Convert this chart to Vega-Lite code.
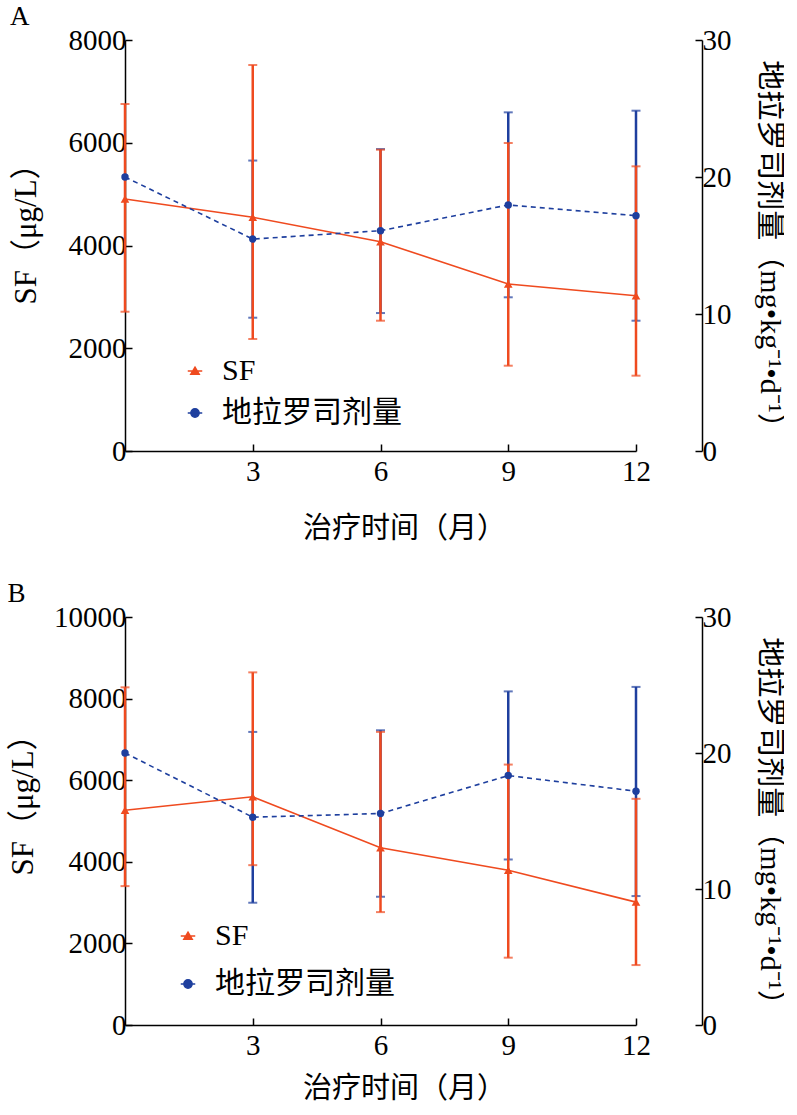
{
  "$schema": "https://vega.github.io/schema/vega-lite/v6.json",
  "padding": {"left": 7, "top": 3, "right": 0, "bottom": 0},
  "config": {
    "view": {"stroke": null},
    "font": "Liberation Serif, Noto Sans CJK SC",
    "axis": {
      "labelFont": "Liberation Serif, Noto Sans CJK SC",
      "titleFont": "Liberation Serif, Noto Sans CJK SC",
      "labelFontSize": 29,
      "titleFontSize": 29,
      "titleFontWeight": "normal",
      "labelColor": "black",
      "titleColor": "black",
      "domainColor": "black",
      "tickColor": "black",
      "domainWidth": 1.5,
      "tickWidth": 1.5,
      "tickSize": -7,
      "grid": false,
      "labelFlush": false,
      "labelOverlap": false
    },
    "legend": {
      "orient": "none",
      "title": null,
      "padding": 0,
      "labelFont": "Liberation Serif, Noto Sans CJK SC",
      "labelFontSize": 30,
      "labelColor": "black",
      "labelLimit": 400,
      "symbolSize": 210,
      "symbolStrokeWidth": 1.5,
      "symbolOpacity": 1,
      "labelOffset": 12
    },
    "title": {"font": "Liberation Serif", "fontSize": 27, "fontWeight": "normal", "color": "black"}
  },
  "resolve": {
    "scale": {"fill": "independent", "stroke": "independent", "shape": "independent"},
    "legend": {"fill": "independent", "stroke": "independent", "shape": "independent"}
  },
  "spacing": 37,
  "datasets": {
    "a": [
      {"t": 0, "series": "SF", "mean": 4905, "lo": 2711, "hi": 6754},
      {"t": 3, "series": "SF", "mean": 4549, "lo": 2180, "hi": 7513},
      {"t": 6, "series": "SF", "mean": 4074, "lo": 2536, "hi": 5865},
      {"t": 9, "series": "SF", "mean": 3250, "lo": 1660, "hi": 5995},
      {"t": 12, "series": "SF", "mean": 3023, "lo": 1466, "hi": 5541},
      {"t": 0, "series": "地拉罗司剂量", "mean": 20.0, "lo": null, "hi": null},
      {"t": 3, "series": "地拉罗司剂量", "mean": 15.47, "lo": 9.73, "hi": 21.2},
      {"t": 6, "series": "地拉罗司剂量", "mean": 16.08, "lo": 10.07, "hi": 22.04},
      {"t": 9, "series": "地拉罗司剂量", "mean": 17.96, "lo": 11.22, "hi": 24.72},
      {"t": 12, "series": "地拉罗司剂量", "mean": 17.18, "lo": 9.51, "hi": 24.84}
    ],
    "b": [
      {"t": 0, "series": "SF", "mean": 5264, "lo": 3404, "hi": 8276},
      {"t": 3, "series": "SF", "mean": 5593, "lo": 3918, "hi": 8643},
      {"t": 6, "series": "SF", "mean": 4344, "lo": 2767, "hi": 7184},
      {"t": 9, "series": "SF", "mean": 3795, "lo": 1650, "hi": 6383},
      {"t": 12, "series": "SF", "mean": 3012, "lo": 1469, "hi": 5544},
      {"t": 0, "series": "地拉罗司剂量", "mean": 20.0, "lo": null, "hi": null},
      {"t": 3, "series": "地拉罗司剂量", "mean": 15.28, "lo": 8.99, "hi": 21.55},
      {"t": 6, "series": "地拉罗司剂量", "mean": 15.55, "lo": 9.43, "hi": 21.67},
      {"t": 9, "series": "地拉罗司剂量", "mean": 18.34, "lo": 12.17, "hi": 24.53},
      {"t": 12, "series": "地拉罗司剂量", "mean": 17.19, "lo": 9.48, "hi": 24.86}
    ]
  },
  "vconcat": [
    {
      "title": {"text": "A", "anchor": "start", "frame": "bounds", "offset": -5},
      "data": {"name": "a"},
      "width": 511,
      "height": 411,
      "resolve": {"scale": {"y": "independent"}},
      "layer": [
        {
          "transform": [{"filter": "datum.series === '地拉罗司剂量' && datum.lo != null"}],
          "mark": {"type": "rule", "color": "#1E3F9E", "strokeWidth": 2.5},
          "encoding": {
            "x": {"field": "t", "type": "quantitative", "scale": {"domain": [0, 12], "nice": false}, "axis": {"values": [3, 6, 9, 12], "title": "治疗时间（月）", "titlePadding": 28, "labelPadding": 13, "titleX": 279}},
            "y": {"field": "lo", "type": "quantitative", "scale": {"domain": [0, 30], "nice": false}, "axis": {"orient": "right", "offset": 66, "values": [0, 10, 20, 30], "title": "地拉罗司剂量（mg•kg⁻¹•d⁻¹）", "titleFontSize": 30, "titlePadding": 23, "titleY": 211, "labelPadding": 7}},
            "y2": {"field": "hi"}
          }
        },
        {
          "transform": [{"filter": "datum.series === '地拉罗司剂量' && datum.lo != null"}],
          "mark": {"type": "tick", "orient": "horizontal", "color": "#1E3F9E", "size": 9, "thickness": 2},
          "encoding": {
            "x": {"field": "t", "type": "quantitative"},
            "y": {"field": "lo", "type": "quantitative", "scale": {"domain": [0, 30], "nice": false}, "axis": null}
          }
        },
        {
          "transform": [{"filter": "datum.series === '地拉罗司剂量' && datum.lo != null"}],
          "mark": {"type": "tick", "orient": "horizontal", "color": "#1E3F9E", "size": 9, "thickness": 2},
          "encoding": {
            "x": {"field": "t", "type": "quantitative"},
            "y": {"field": "hi", "type": "quantitative", "scale": {"domain": [0, 30], "nice": false}, "axis": null}
          }
        },
        {
          "transform": [{"filter": "datum.series === 'SF'"}],
          "mark": {"type": "rule", "color": "#EF4A1F", "strokeWidth": 2.5},
          "encoding": {
            "x": {"field": "t", "type": "quantitative"},
            "y": {"field": "lo", "type": "quantitative", "scale": {"domain": [0, 8000], "nice": false}, "axis": {"orient": "left", "format": "d", "values": [0, 2000, 4000, 6000, 8000], "title": "SF（μg/L）", "titleFontSize": 31, "titlePadding": 26, "labelPadding": 6, "titleY": 186}},
            "y2": {"field": "hi"}
          }
        },
        {
          "transform": [{"filter": "datum.series === 'SF'"}],
          "mark": {"type": "tick", "orient": "horizontal", "color": "#EF4A1F", "size": 9, "thickness": 2},
          "encoding": {
            "x": {"field": "t", "type": "quantitative"},
            "y": {"field": "lo", "type": "quantitative", "scale": {"domain": [0, 8000], "nice": false}, "axis": null}
          }
        },
        {
          "transform": [{"filter": "datum.series === 'SF'"}],
          "mark": {"type": "tick", "orient": "horizontal", "color": "#EF4A1F", "size": 9, "thickness": 2},
          "encoding": {
            "x": {"field": "t", "type": "quantitative"},
            "y": {"field": "hi", "type": "quantitative", "scale": {"domain": [0, 8000], "nice": false}, "axis": null}
          }
        },
        {
          "transform": [{"filter": "datum.series === 'SF'"}],
          "mark": {"type": "line", "color": "#EF4A1F", "strokeWidth": 1.6},
          "encoding": {
            "x": {"field": "t", "type": "quantitative"},
            "y": {"field": "mean", "type": "quantitative", "scale": {"domain": [0, 8000], "nice": false}, "axis": null}
          }
        },
        {
          "transform": [{"filter": "datum.series === '地拉罗司剂量'"}],
          "mark": {"type": "line", "color": "#1E3F9E", "strokeWidth": 1.6, "strokeDash": [5, 4]},
          "encoding": {
            "x": {"field": "t", "type": "quantitative"},
            "y": {"field": "mean", "type": "quantitative", "scale": {"domain": [0, 30], "nice": false}, "axis": null}
          }
        },
        {
          "transform": [{"filter": "datum.series === 'SF'"}],
          "mark": {"type": "point", "filled": true, "opacity": 1, "size": 75, "shape": "triangle-up", "color": "#EF4A1F"},
          "encoding": {
            "x": {"field": "t", "type": "quantitative"},
            "y": {"field": "mean", "type": "quantitative", "scale": {"domain": [0, 8000], "nice": false}, "axis": null}
          }
        },
        {
          "transform": [{"filter": "datum.series === '地拉罗司剂量'"}],
          "mark": {"type": "point", "filled": true, "opacity": 1, "size": 55, "shape": "circle", "color": "#1E3F9E"},
          "encoding": {
            "x": {"field": "t", "type": "quantitative"},
            "y": {"field": "mean", "type": "quantitative", "scale": {"domain": [0, 30], "nice": false}, "axis": null}
          }
        },
        {
          "mark": {"type": "point", "opacity": 0, "strokeWidth": 1.5},
          "encoding": {
            "x": {"field": "t", "type": "quantitative"},
            "y": {"field": "mean", "type": "quantitative", "scale": {"domain": [0, 8000], "nice": false}, "axis": null},
            "fill": {"field": "series", "type": "nominal", "scale": {"domain": ["SF", "地拉罗司剂量"], "range": ["#EF4A1F", "#1E3F9E"]}, "legend": {"legendX": 55, "legendY": 316, "rowPadding": 12}},
            "stroke": {"field": "series", "type": "nominal", "scale": {"domain": ["SF", "地拉罗司剂量"], "range": ["#EF4A1F", "#1E3F9E"]}, "legend": {"legendX": 55, "legendY": 316, "rowPadding": 12}},
            "shape": {"field": "series", "type": "nominal", "scale": {"domain": ["SF", "地拉罗司剂量"], "range": ["M-1,0H1M0,-0.52L0.58,0.45L-0.58,0.45Z", "M-1,0H-0.62M0.62,0H1M0.57,0A0.57,0.57 0 1,1 -0.57,0A0.57,0.57 0 1,1 0.57,0Z"]}, "legend": {"legendX": 55, "legendY": 316, "rowPadding": 12}}
          }
        }
      ]
    },
    {
      "title": {"text": "B", "anchor": "start", "frame": "bounds", "offset": -5},
      "data": {"name": "b"},
      "width": 511,
      "height": 408,
      "resolve": {"scale": {"y": "independent"}},
      "layer": [
        {
          "transform": [{"filter": "datum.series === '地拉罗司剂量' && datum.lo != null"}],
          "mark": {"type": "rule", "color": "#1E3F9E", "strokeWidth": 2.5},
          "encoding": {
            "x": {"field": "t", "type": "quantitative", "scale": {"domain": [0, 12], "nice": false}, "axis": {"values": [3, 6, 9, 12], "title": "治疗时间（月）", "titlePadding": 14, "labelPadding": 13, "titleX": 279}},
            "y": {"field": "lo", "type": "quantitative", "scale": {"domain": [0, 30], "nice": false}, "axis": {"orient": "right", "offset": 66, "values": [0, 10, 20, 30], "title": "地拉罗司剂量（mg•kg⁻¹•d⁻¹）", "titleFontSize": 30, "titlePadding": 23, "titleY": 211, "labelPadding": 7}},
            "y2": {"field": "hi"}
          }
        },
        {
          "transform": [{"filter": "datum.series === '地拉罗司剂量' && datum.lo != null"}],
          "mark": {"type": "tick", "orient": "horizontal", "color": "#1E3F9E", "size": 9, "thickness": 2},
          "encoding": {
            "x": {"field": "t", "type": "quantitative"},
            "y": {"field": "lo", "type": "quantitative", "scale": {"domain": [0, 30], "nice": false}, "axis": null}
          }
        },
        {
          "transform": [{"filter": "datum.series === '地拉罗司剂量' && datum.lo != null"}],
          "mark": {"type": "tick", "orient": "horizontal", "color": "#1E3F9E", "size": 9, "thickness": 2},
          "encoding": {
            "x": {"field": "t", "type": "quantitative"},
            "y": {"field": "hi", "type": "quantitative", "scale": {"domain": [0, 30], "nice": false}, "axis": null}
          }
        },
        {
          "transform": [{"filter": "datum.series === 'SF'"}],
          "mark": {"type": "rule", "color": "#EF4A1F", "strokeWidth": 2.5},
          "encoding": {
            "x": {"field": "t", "type": "quantitative"},
            "y": {"field": "lo", "type": "quantitative", "scale": {"domain": [0, 10000], "nice": false}, "axis": {"orient": "left", "format": "d", "values": [0, 2000, 4000, 6000, 8000, 10000], "title": "SF（μg/L）", "titleFontSize": 31, "titlePadding": 14, "labelPadding": 6, "titleY": 180}},
            "y2": {"field": "hi"}
          }
        },
        {
          "transform": [{"filter": "datum.series === 'SF'"}],
          "mark": {"type": "tick", "orient": "horizontal", "color": "#EF4A1F", "size": 9, "thickness": 2},
          "encoding": {
            "x": {"field": "t", "type": "quantitative"},
            "y": {"field": "lo", "type": "quantitative", "scale": {"domain": [0, 10000], "nice": false}, "axis": null}
          }
        },
        {
          "transform": [{"filter": "datum.series === 'SF'"}],
          "mark": {"type": "tick", "orient": "horizontal", "color": "#EF4A1F", "size": 9, "thickness": 2},
          "encoding": {
            "x": {"field": "t", "type": "quantitative"},
            "y": {"field": "hi", "type": "quantitative", "scale": {"domain": [0, 10000], "nice": false}, "axis": null}
          }
        },
        {
          "transform": [{"filter": "datum.series === 'SF'"}],
          "mark": {"type": "line", "color": "#EF4A1F", "strokeWidth": 1.6},
          "encoding": {
            "x": {"field": "t", "type": "quantitative"},
            "y": {"field": "mean", "type": "quantitative", "scale": {"domain": [0, 10000], "nice": false}, "axis": null}
          }
        },
        {
          "transform": [{"filter": "datum.series === '地拉罗司剂量'"}],
          "mark": {"type": "line", "color": "#1E3F9E", "strokeWidth": 1.6, "strokeDash": [5, 4]},
          "encoding": {
            "x": {"field": "t", "type": "quantitative"},
            "y": {"field": "mean", "type": "quantitative", "scale": {"domain": [0, 30], "nice": false}, "axis": null}
          }
        },
        {
          "transform": [{"filter": "datum.series === 'SF'"}],
          "mark": {"type": "point", "filled": true, "opacity": 1, "size": 75, "shape": "triangle-up", "color": "#EF4A1F"},
          "encoding": {
            "x": {"field": "t", "type": "quantitative"},
            "y": {"field": "mean", "type": "quantitative", "scale": {"domain": [0, 10000], "nice": false}, "axis": null}
          }
        },
        {
          "transform": [{"filter": "datum.series === '地拉罗司剂量'"}],
          "mark": {"type": "point", "filled": true, "opacity": 1, "size": 55, "shape": "circle", "color": "#1E3F9E"},
          "encoding": {
            "x": {"field": "t", "type": "quantitative"},
            "y": {"field": "mean", "type": "quantitative", "scale": {"domain": [0, 30], "nice": false}, "axis": null}
          }
        },
        {
          "mark": {"type": "point", "opacity": 0, "strokeWidth": 1.5},
          "encoding": {
            "x": {"field": "t", "type": "quantitative"},
            "y": {"field": "mean", "type": "quantitative", "scale": {"domain": [0, 10000], "nice": false}, "axis": null},
            "fill": {"field": "series", "type": "nominal", "scale": {"domain": ["SF", "地拉罗司剂量"], "range": ["#EF4A1F", "#1E3F9E"]}, "legend": {"legendX": 48, "legendY": 304, "rowPadding": 18}},
            "stroke": {"field": "series", "type": "nominal", "scale": {"domain": ["SF", "地拉罗司剂量"], "range": ["#EF4A1F", "#1E3F9E"]}, "legend": {"legendX": 48, "legendY": 304, "rowPadding": 18}},
            "shape": {"field": "series", "type": "nominal", "scale": {"domain": ["SF", "地拉罗司剂量"], "range": ["M-1,0H1M0,-0.52L0.58,0.45L-0.58,0.45Z", "M-1,0H-0.62M0.62,0H1M0.57,0A0.57,0.57 0 1,1 -0.57,0A0.57,0.57 0 1,1 0.57,0Z"]}, "legend": {"legendX": 48, "legendY": 304, "rowPadding": 18}}
          }
        }
      ]
    }
  ]
}
